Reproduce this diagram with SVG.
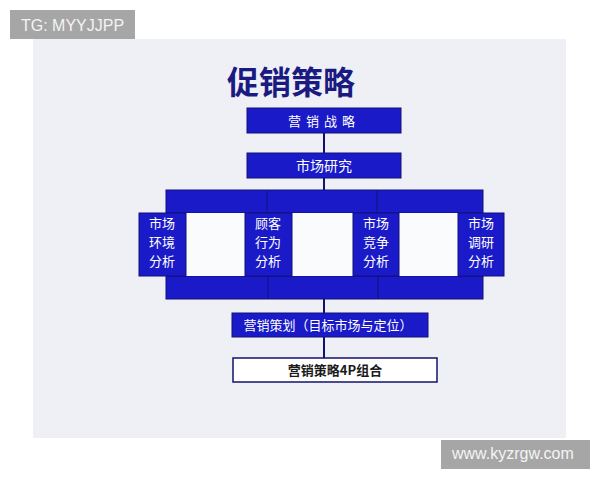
<svg xmlns="http://www.w3.org/2000/svg" width="600" height="480" viewBox="0 0 600 480">
<style>
.blue{fill:#1a1ac8;stroke:#10107a;stroke-width:1}
.gap{fill:#fafbfd}
.wt{fill:#ffffff;font-family:"Noto Sans CJK SC","Liberation Sans",sans-serif;text-anchor:middle}
.col{font-size:13px}
.conn{stroke:#12126e;stroke-width:2;fill:none}
.sep{stroke:#10107a;stroke-width:1}
</style>
<rect width="600" height="480" fill="#ffffff"/>
<rect x="33" y="39" width="533" height="399" fill="#eef0f6"/>
<g id="watermark-tg">
<rect x="10" y="10" width="125" height="29" fill="#a6a6a6"/>
<text x="21" y="31" font-family="Liberation Sans, Arial, sans-serif" font-size="16" fill="#f4f4f4">TG: MYYJJPP</text>
</g>
<g id="watermark-www">
<rect x="441" y="440" width="149" height="29" fill="#a6a6a6"/>
<text x="452" y="459" font-family="Liberation Sans, Arial, sans-serif" font-size="16" fill="#f4f4f4">www.kyzrgw.com</text>
</g>
<text x="291" y="94" font-family="Noto Sans CJK SC, sans-serif" font-size="32" font-weight="bold" fill="#1a1a80" text-anchor="middle">促销策略</text>
<g id="connectors">
<line class="conn" x1="324" y1="133" x2="324" y2="153"/>
<line class="conn" x1="324" y1="178" x2="324" y2="190"/>
<line class="conn" x1="324" y1="299" x2="324" y2="313"/>
<line class="conn" x1="324" y1="337" x2="324" y2="358"/>
</g>
<g id="n-strategy">
<rect class="blue" x="247" y="108" width="154" height="25"/>
<text class="wt" x="324" y="126" font-size="13" letter-spacing="5">营销战略</text>
</g>
<g id="n-research">
<rect class="blue" x="247" y="153" width="154" height="25"/>
<text class="wt" x="324" y="171" font-size="14">市场研究</text>
</g>
<g id="frame">
<rect class="blue" x="166" y="190" width="317" height="23"/>
<rect class="blue" x="166" y="276" width="317" height="23"/>
<line class="sep" x1="267" y1="191" x2="267" y2="213"/>
<line class="sep" x1="377" y1="191" x2="377" y2="213"/>
<line class="sep" x1="268" y1="276" x2="268" y2="299"/>
<line class="sep" x1="378" y1="276" x2="378" y2="299"/>
<rect class="gap" x="186" y="213" width="59" height="63"/>
<rect class="gap" x="292" y="213" width="61" height="63"/>
<rect class="gap" x="399" y="213" width="59" height="63"/>
</g>
<g id="n-env">
<rect class="blue" x="139" y="213" width="47" height="63"/>
<text class="wt col" x="162" y="228"><tspan x="162">市场</tspan><tspan x="162" dy="19">环境</tspan><tspan x="162" dy="19">分析</tspan></text>
</g>
<g id="n-customer">
<rect class="blue" x="245" y="213" width="47" height="63"/>
<text class="wt col" x="268" y="228"><tspan x="268">顾客</tspan><tspan x="268" dy="19">行为</tspan><tspan x="268" dy="19">分析</tspan></text>
</g>
<g id="n-compete">
<rect class="blue" x="353" y="213" width="46" height="63"/>
<text class="wt col" x="376" y="228"><tspan x="376">市场</tspan><tspan x="376" dy="19">竞争</tspan><tspan x="376" dy="19">分析</tspan></text>
</g>
<g id="n-survey">
<rect class="blue" x="458" y="213" width="46" height="63"/>
<text class="wt col" x="481" y="228"><tspan x="481">市场</tspan><tspan x="481" dy="19">调研</tspan><tspan x="481" dy="19">分析</tspan></text>
</g>
<g id="n-planning">
<rect class="blue" x="232" y="313" width="196" height="24"/>
<text class="wt" x="328" y="330" font-size="13">营销策划（目标市场与定位）</text>
</g>
<g id="n-4p">
<rect x="233" y="358" width="204" height="24" fill="#ffffff" stroke="#12126e" stroke-width="1.5"/>
<text x="335" y="375" font-family="Noto Sans CJK SC, Liberation Sans, sans-serif" font-size="13" font-weight="bold" fill="#1a1a1a" text-anchor="middle">营销策略4P组合</text>
</g>
</svg>
